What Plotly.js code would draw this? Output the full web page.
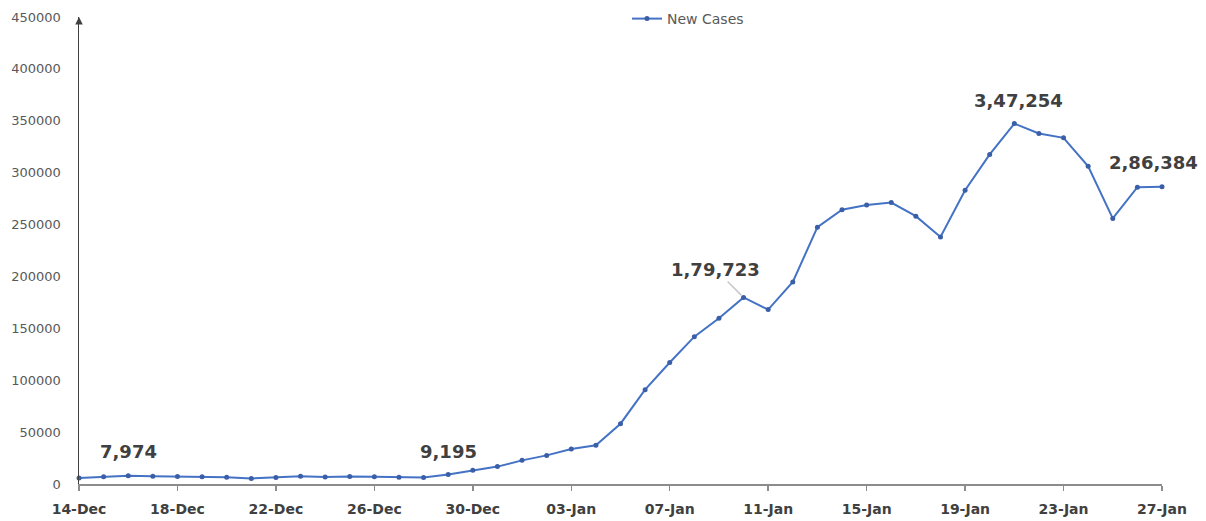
<!DOCTYPE html>
<html>
<head>
<meta charset="utf-8">
<script src="https://cdn.plot.ly/plotly-3.0.1.min.js"></script>
<style>html,body{margin:0;padding:0;background:#fff;}#chart{width:1206px;height:521px;}</style>
</head>
<body>
<div id="chart"></div>
<script>
const dates = ['14-Dec','15-Dec','16-Dec','17-Dec','18-Dec','19-Dec','20-Dec','21-Dec','22-Dec','23-Dec','24-Dec','25-Dec','26-Dec','27-Dec','28-Dec','29-Dec','30-Dec','31-Dec',
  '01-Jan','02-Jan','03-Jan','04-Jan','05-Jan','06-Jan','07-Jan','08-Jan','09-Jan','10-Jan','11-Jan','12-Jan','13-Jan','14-Jan','15-Jan','16-Jan','17-Jan','18-Jan','19-Jan','20-Jan','21-Jan','22-Jan','23-Jan','24-Jan','25-Jan','26-Jan','27-Jan'];
const newCases = [5784,6984,7974,7447,7145,7081,6563,5326,6317,7495,6650,7189,6987,6531,6358,9195,13154,16764,
  22775,27553,33750,37379,58097,90928,117100,141986,159632,179723,168063,194720,247417,264202,268833,271202,258089,238018,282970,317532,347254,337704,333533,306064,255874,285914,286384];
const tickLabels = ['14-Dec','18-Dec','22-Dec','26-Dec','30-Dec','03-Jan','07-Jan','11-Jan','15-Jan','19-Jan','23-Jan','27-Jan'];
const yTicks = [0,50000,100000,150000,200000,250000,300000,350000,400000,450000];
const labelled = ['16-Dec','29-Dec','10-Jan','21-Jan','27-Jan'];

function fmtIN(n){
  const s = String(n);
  if (s.length <= 3) return s;
  const last3 = s.slice(-3);
  let rest = s.slice(0,-3);
  const parts = [];
  while (rest.length > 2){ parts.unshift(rest.slice(-2)); rest = rest.slice(0,-2); }
  if (rest.length) parts.unshift(rest);
  return parts.join(',') + ',' + last3;
}

const trace = {
  x: dates, y: newCases, type: 'scatter', mode: 'lines+markers', name: 'New Cases',
  line: {color: '#4472C4', width: 2},
  marker: {color: '#3a5fa8', size: 5},
  cliponaxis: false
};

const shifts = {'16-Dec':[0,24],'29-Dec':[0,23],'21-Jan':[4,23],'27-Jan':[-9,24]};
const annotations = labelled.map(d => {
  const i = dates.indexOf(d);
  const base = {x: d, y: newCases[i], xref: 'x', yref: 'y', text: fmtIN(newCases[i]),
    font: {family: 'DejaVu Sans', size: 18, color: '#404040', weight: 'bold'}};
  if (d === '10-Jan') {
    return Object.assign(base, {showarrow: true, ax: -28, ay: -28, arrowhead: 0, arrowwidth: 1.5, arrowcolor: '#c8c8c8', standoff: 3});
  }
  return Object.assign(base, {showarrow: false, xshift: shifts[d][0], yshift: shifts[d][1]});
});
annotations.push({xref: 'x', yref: 'y', x: dates[0], y: yTicks[yTicks.length - 1], ax: 0, ay: 8, text: '', showarrow: true,
  arrowhead: 2, arrowsize: 1, arrowwidth: 1.5, arrowcolor: '#404040', standoff: 0});

const layout = {
  width: 1206, height: 521,
  margin: {l: 79, r: 44, t: 3, b: 37},
  paper_bgcolor: '#fff', plot_bgcolor: '#fff',
  showlegend: true,
  legend: {orientation: 'h', x: 0.506, y: 1, xanchor: 'left', yanchor: 'top',
    font: {family: 'DejaVu Sans', size: 14, color: '#595959'}, itemwidth: 30, bgcolor: 'rgba(0,0,0,0)'},
  xaxis: {
    type: 'category', categoryorder: 'array', categoryarray: dates,
    range: [0, dates.length - 1], tickmode: 'array', tickvals: tickLabels, ticktext: tickLabels,
    showgrid: false, zeroline: false, showline: true, linecolor: '#8c8c8c', linewidth: 1.5,
    ticks: 'outside', ticklen: 5, tickcolor: '#8c8c8c', tickwidth: 1.5, ticklabelstandoff: 7,
    tickfont: {family: 'DejaVu Sans', size: 14, color: '#404040', weight: 'bold'}
  },
  yaxis: {
    domain: [0, 0.971],
    range: [0, 450000], tickmode: 'array', tickvals: yTicks, ticktext: yTicks.map(String),
    showgrid: false, zeroline: false, showline: true, linecolor: '#404040', linewidth: 1.5,
    ticks: '', ticklabelstandoff: 14,
    tickfont: {family: 'DejaVu Sans', size: 13, color: '#595959'}
  },
  annotations: annotations
};

Plotly.newPlot('chart', [trace], layout, {displayModeBar: false, staticPlot: true});
</script>
</body>
</html>
